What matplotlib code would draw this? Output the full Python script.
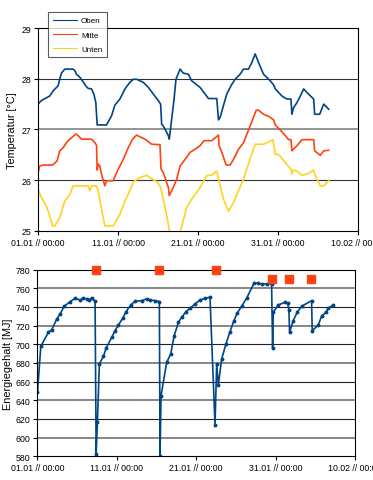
import matplotlib.pyplot as plt

plt.rcParams['font.family'] = ['Liberation Sans', 'DejaVu Sans']

# days since 01.01 00:00
oben_t = [0, 0.42, 1.46, 1.88, 2.5, 2.71, 2.92, 3.34, 4.38, 4.59, 4.8, 5.22, 5.64, 5.97, 6.26, 6.68,
          6.97, 7.22, 7.39, 8.56, 9.19, 9.6, 10.23, 10.86, 11.48, 11.9, 12.32, 13.15, 13.78, 14.4,
          15.03, 15.32, 15.45, 15.66, 16.28, 16.4, 16.7, 17.0, 17.24, 17.75, 18.16, 18.79, 19.2,
          19.83, 20.25, 21.3, 22.34, 22.55, 22.76, 23.17, 23.59, 24.22, 24.63, 25.26, 25.68, 26.3,
          26.72, 27.14, 27.56, 28.18, 29.02, 29.44, 29.65, 30.48, 31.1, 31.61, 31.73, 31.94, 32.36,
          32.78, 33.2, 33.6, 34.45, 34.57, 35.2, 35.7, 36.33]
oben = [27.50, 27.57, 27.66, 27.76, 27.86, 27.99, 28.11, 28.19, 28.19, 28.16, 28.09, 28.03, 27.94,
        27.86, 27.81, 27.80, 27.70, 27.53, 27.09, 27.09, 27.27, 27.48, 27.60, 27.80, 27.93, 27.99,
        27.99, 27.93, 27.83, 27.70, 27.57, 27.50, 27.10, 27.07, 26.88, 26.81, 27.20, 27.60, 27.99,
        28.19, 28.11, 28.09, 27.96, 27.88, 27.83, 27.61, 27.61, 27.19, 27.24, 27.47, 27.70, 27.89,
        27.99, 28.09, 28.19, 28.19, 28.32, 28.49, 28.32, 28.09, 27.96, 27.88, 27.80, 27.66, 27.60,
        27.60, 27.30, 27.43, 27.53, 27.66, 27.80, 27.73, 27.60, 27.30, 27.30, 27.50, 27.40]

mitte_t = [0, 0.21, 0.63, 1.8, 2.38, 2.71, 3.13, 3.55, 3.97, 4.72, 5.0, 5.43, 6.68, 7.1, 7.31, 7.39,
           7.52, 7.72, 7.93, 8.35, 8.56, 9.39, 10.02, 10.65, 11.27, 11.82, 12.32, 12.94, 13.36, 14.2,
           15.24, 15.37, 15.66, 16.28, 16.4, 16.9, 17.33, 17.75, 18.37, 19.0, 19.62, 20.25, 20.75,
           21.71, 22.55, 22.63, 22.97, 23.51, 24.0, 24.43, 25.05, 25.68, 26.51, 27.27, 27.56, 28.18,
           28.81, 29.44, 29.65, 30.27, 30.9, 31.32, 31.61, 31.73, 32.36, 32.99, 34.45, 34.57, 35.28,
           35.7, 36.33]
mitte = [26.15, 26.28, 26.30, 26.30, 26.38, 26.58, 26.64, 26.74, 26.81, 26.91, 26.88, 26.81, 26.81,
         26.74, 26.69, 26.20, 26.32, 26.28, 26.12, 25.89, 25.99, 25.99, 26.22, 26.41, 26.64, 26.81,
         26.89, 26.84, 26.81, 26.71, 26.70, 26.22, 26.15, 25.86, 25.70, 25.86, 26.02, 26.28, 26.41,
         26.55, 26.61, 26.68, 26.78, 26.78, 26.89, 26.68, 26.55, 26.30, 26.30, 26.41, 26.61, 26.74,
         27.07, 27.38, 27.38, 27.30, 27.26, 27.19, 27.09, 26.99, 26.88, 26.80, 26.80, 26.58, 26.68,
         26.80, 26.80, 26.58, 26.49, 26.58, 26.59]

unten_t = [0, 0.42, 1.04, 1.46, 1.8, 2.09, 2.71, 3.34, 3.97, 4.38, 6.26, 6.47, 6.68, 7.31, 7.52,
           7.93, 8.35, 9.39, 10.23, 10.86, 11.27, 11.9, 12.73, 13.57, 13.99, 14.82, 15.24, 15.66,
           16.08, 16.6, 17.5, 17.96, 18.58, 19.2, 19.83, 20.25, 21.09, 21.71, 22.34, 22.76, 23.17,
           23.8, 24.43, 25.05, 25.68, 26.3, 27.14, 28.18, 28.6, 29.35, 29.65, 30.06, 30.9, 31.61,
           31.73, 31.86, 32.36, 32.99, 33.6, 34.45, 34.66, 35.28, 35.7, 36.33]
unten = [25.82, 25.66, 25.49, 25.30, 25.10, 25.10, 25.26, 25.59, 25.72, 25.89, 25.89, 25.79, 25.89,
         25.89, 25.79, 25.43, 25.10, 25.10, 25.33, 25.59, 25.72, 25.97, 26.05, 26.10, 26.05, 25.97,
         25.89, 25.63, 25.30, 24.85, 24.85, 25.10, 25.46, 25.63, 25.76, 25.86, 26.09, 26.10, 26.18,
         25.89, 25.63, 25.39, 25.56, 25.79, 26.02, 26.32, 26.71, 26.71, 26.74, 26.80, 26.51, 26.51,
         26.35, 26.22, 26.12, 26.20, 26.18, 26.10, 26.12, 26.20, 26.09, 25.89, 25.89, 25.99]

energie_t = [0, 0.42, 1.38, 1.8, 2.43, 2.85, 3.36, 4.11, 4.74, 5.37, 5.79, 6.29, 6.55, 6.84, 7.26,
             7.39, 7.55, 7.8, 8.31, 8.64, 9.36, 9.78, 10.2, 10.74, 11.16, 11.75, 12.3, 13.13, 13.76,
             14.18, 14.81, 15.36, 15.44, 15.57, 16.28, 16.79, 17.21, 17.75, 18.17, 18.72, 19.22,
             19.85, 20.48, 21.11, 21.74, 22.37, 22.58, 22.79, 23.21, 23.75, 24.26, 24.76, 25.18,
             25.72, 26.35, 27.28, 27.82, 28.24, 28.87, 29.5, 29.63, 29.71, 30.34, 31.18, 31.52,
             31.68, 31.77, 32.23, 32.73, 33.28, 34.54, 34.62, 35.38, 35.8, 36.34, 36.63, 37.26]
energie = [648.6, 697.9, 712.9, 715.7, 727.1, 732.5, 740.7, 745.7, 749.3, 747.5, 749.3, 748.6, 747.9,
           749.3, 746.1, 582.5, 616.4, 678.9, 687.1, 695.7, 707.5, 714.6, 720.7, 727.9, 735.0, 742.1,
           746.1, 746.8, 748.6, 747.5, 746.8, 745.7, 580.0, 645.0, 680.7, 689.6, 708.6, 723.6, 728.9,
           735.0, 738.6, 743.2, 747.5, 749.3, 750.4, 613.6, 678.9, 656.4, 684.3, 700.4, 713.6, 725.4,
           733.6, 740.7, 749.3, 765.4, 765.7, 764.6, 764.6, 764.6, 695.7, 734.3, 742.1, 745.0, 744.3,
           736.8, 712.9, 725.4, 734.3, 740.7, 746.8, 714.6, 720.7, 730.0, 734.3, 738.6, 742.1]

# red markers above the curve
event_t = [7.39, 15.36, 22.45, 29.54, 31.64, 34.45]
event_y = [780, 780, 780, 770, 770, 770]

x_ticks = [0, 10, 20, 30, 40]
x_labels = ['01.01 // 00:00', '11.01 // 00:00', '21.01 // 00:00', '31.01 // 00:00', '10.02 // 00:00']

BLUE = '#004586'
RED = '#ff420e'
YELLOW = '#ffd320'

fig = plt.figure(figsize=(3.73, 4.81), dpi=100)

ax1 = fig.add_axes([0.102, 0.5177, 0.858, 0.422])
ax1.plot(oben_t, oben, color=BLUE, lw=1.2, label='Oben')
ax1.plot(mitte_t, mitte, color=RED, lw=1.2, label='Mitte')
ax1.plot(unten_t, unten, color=YELLOW, lw=1.2, label='Unten')
ax1.set_ylim(25, 29)
ax1.set_yticks([25, 26, 27, 28, 29])
ax1.set_ylabel('Temperatur [°C]', fontsize=7.8, labelpad=3)
for y in [26, 27, 28]:
    ax1.axhline(y, color='#333333' if y != 27 else '#777777', lw=0.8 if y != 27 else 1.1, zorder=0)
leg = ax1.legend(loc='upper left', bbox_to_anchor=(0.031, 1.079), borderaxespad=0, fontsize=5.8,
                 frameon=True, fancybox=False, edgecolor='#333333', handlelength=3.0, borderpad=0.6,
                 labelspacing=0.8, handletextpad=0.5)
leg.get_frame().set_linewidth(0.8)
for line in leg.get_lines():
    line.set_linewidth(0.8)

ax2 = fig.add_axes([0.1005, 0.0493, 0.851, 0.388])
ax2.plot(energie_t, energie, color=BLUE, lw=1.2, marker='o', ms=1.8)
ax2.plot(event_t, event_y, ls='none', marker='s', ms=5.5, color=RED, clip_on=False, zorder=5)
ax2.set_ylim(580, 780)
ax2.set_yticks(range(580, 781, 20))
ax2.set_ylabel('Energiegehalt [MJ]', fontsize=7.8, labelpad=2)
for y in range(600, 780, 20):
    ax2.axhline(y, color='#222222' if y % 40 else '#666666', lw=0.8 if y % 40 else 1.1, zorder=0)

for ax in (ax1, ax2):
    ax.set_xlim(0, 40)
    ax.set_xticks(x_ticks)
    ax.set_xticklabels(x_labels)
    ax.tick_params(labelsize=6.3, length=3, width=0.8, pad=2)
    for s in ax.spines.values():
        s.set_linewidth(0.8)

fig.savefig('out.png', dpi=100)
